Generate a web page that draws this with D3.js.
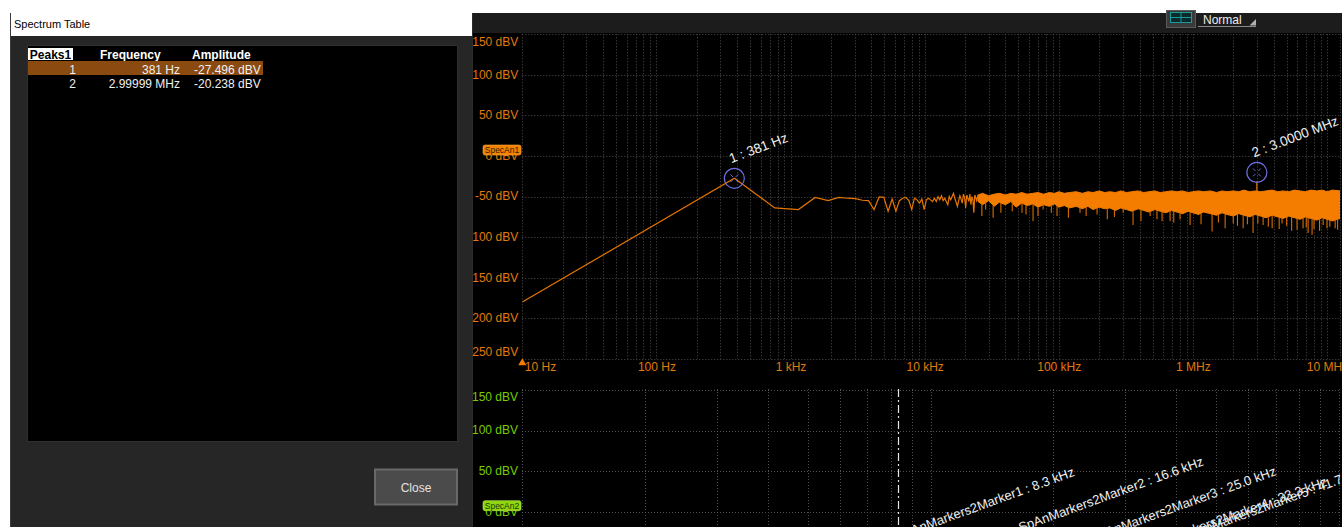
<!DOCTYPE html>
<html><head><meta charset="utf-8">
<script src="https://cdn.jsdelivr.net/npm/d3@7"></script>
<style>html,body{margin:0;padding:0;background:#fff;overflow:hidden}svg{display:block}</style>
</head><body>
<svg id="c" width="1342" height="527"></svg>
<script>
// ---------------- DATA ----------------
const tableTitle = "Spectrum Table";
const tableHeaders = ["Peaks1", "Frequency", "Amplitude"];
const peakIds = ["1", "2"];
const peakFreqText = ["381 Hz", "2.99999 MHz"];
const peakAmpText = ["-27.496 dBV", "-20.238 dBV"];
const peakFreqs = [381, 2999990];
const peakAmps = [-27.496, -20.238];
const peakMarkerLabels = ["1 : 381 Hz", "2 : 3.0000 MHz"];

const topFreqTicks = [10, 100, 1e3, 1e4, 1e5, 1e6, 1e7];
const topFreqTickLabels = ["10 Hz", "100 Hz", "1 kHz", "10 kHz", "100 kHz", "1 MHz", "10 MHz"];
const dbvTicks = [150, 100, 50, 0, -50, -100, -150, -200, -250];
const lowerDbvTicks = [150, 100, 50, 0];

// spectrum trace (SpecAn1)
const binHz = 381.47;
const traceStartFreq = 10, traceStartAmp = -180;
const binAmps = [-27.5, -64, -66, -51, -55, -51, -52, -52.5, -54.5, -55,
  -66, -50.5, -51, -68, -53, -68, -55, -52, -51, -55,
  -66, -52, -54, -58, -53, -66, -54, -52, -54, -56,
  -52, -56, -50, -54, -49, -55, -52, -56, -60, -50,
  -54, -50, -46, -52, -57, -62, -55, -49, -53, -58,
  -47, -51, -64, -48, -52, -56, -47, -60, -50, -53,
  -70, -48, -51, -55];
const bandFreqs = [25e3, 27e3, 30e3, 33e3, 36e3, 40e3, 44e3, 48e3, 53e3, 58e3,
  64e3, 70e3, 77e3, 85e3, 93e3, 100e3, 110e3, 120e3, 135e3, 150e3,
  165e3, 180e3, 200e3, 220e3, 240e3, 265e3, 290e3, 320e3, 350e3, 390e3,
  430e3, 470e3, 520e3, 570e3, 630e3, 690e3, 760e3, 840e3, 920e3, 1.0e6,
  1.1e6, 1.2e6, 1.35e6, 1.5e6, 1.65e6, 1.8e6, 2.0e6, 2.2e6, 2.4e6, 2.65e6,
  2.9e6, 3.2e6, 3.5e6, 3.9e6, 4.3e6, 4.7e6, 5.2e6, 5.7e6, 6.3e6, 6.9e6,
  7.6e6, 8.4e6, 9.2e6, 10e6, 11e6, 12.5e6];
const bandHi = [-48, -46, -49, -47, -46, -48, -46, -47, -45, -47,
  -46, -45, -47, -45, -46, -44, -46, -45, -44, -46,
  -44, -45, -43, -45, -44, -45, -43, -45, -44, -43,
  -45, -44, -43, -45, -44, -43, -44, -43, -45, -44,
  -43, -44, -43, -45, -43, -44, -43, -44, -42, -44,
  -43, -44, -43, -42, -44, -43, -44, -42, -43, -44,
  -42, -43, -42, -44, -42, -43];
const bandLo = [-56, -60, -55, -62, -57, -60, -56, -63, -58, -61,
  -59, -63, -60, -62, -59, -63, -61, -64, -62, -65,
  -62, -66, -63, -65, -64, -67, -64, -66, -68, -65,
  -67, -69, -66, -68, -70, -67, -69, -71, -68, -70,
  -72, -69, -71, -73, -70, -72, -74, -71, -73, -75,
  -72, -74, -76, -73, -75, -77, -74, -76, -78, -75,
  -77, -79, -76, -78, -80, -77];
const spikeFreqs = [26.7e3, 28.5e3, 32.4e3, 37e3, 45e3, 53.2e3, 57e3, 64.3e3, 70e3, 76.4e3,
  88e3, 97.1e3, 118e3, 144e3, 160e3, 193e3, 230e3, 260e3, 302e3, 358e3,
  410e3, 480e3, 540e3, 589e3, 676e3, 720e3, 802e3, 953e3, 1.15e6, 1.39e6,
  1.55e6, 1.74e6, 2.0e6, 2.15e6, 2.37e6, 2.55e6, 2.81e6, 3.05e6, 3.34e6, 3.65e6,
  3.9e6, 4.4e6, 4.62e6, 5.0e6, 5.45e6, 5.98e6, 6.63e6, 7.0e6, 7.23e6, 7.74e6,
  8.0e6, 8.8e6, 9.36e6, 10e6, 10.5e6, 11.5e6, 12e6];
const spikeAmps = [-74, -66, -76, -70, -68, -70, -72, -80, -74, -66,
  -70, -74, -76, -70, -74, -72, -78, -75, -70, -85,
  -80, -74, -78, -80, -80, -82, -78, -85, -84, -93,
  -82, -89, -83, -86, -89, -84, -95, -83, -85, -87,
  -89, -90, -83, -86, -92, -91, -89, -88, -95, -97,
  -90, -92, -85, -89, -87, -89, -91];
const carrierFreq = 3.0e6, carrierTop = -31;

// lower spectrum (SpecAn2) markers
const lowerMarkerFreqs = [8330, 16600, 25000, 33300, 41700];
const lowerMarkerAmps = [-35, -25, -37, -50, -36];
const lowerMarkerLabels = ["SpAnMarkers2Marker1 : 8.3 kHz", "SpAnMarkers2Marker2 : 16.6 kHz",
  "SpAnMarkers2Marker3 : 25.0 kHz", "SpAnMarkers2Marker4 : 33.3 kHz", "SpAnMarkers2Marker5 : 41.7 kHz"];

// ---------------- DRAW ----------------
(function () {
const font = "'Liberation Sans', Arial, sans-serif";
const svg = d3.select("#c").style("font-family", font);
const ORANGE = "#f47d00", YORANGE = "#e27a0c", GREEN = "#78cc00", GRID = "#4e4e4e", MARK = "#6d6de0";

svg.append("rect").attr("width", 1342).attr("height", 527).attr("fill", "#fff");

// ---- right panel ----
svg.append("rect").attr("x", 472).attr("y", 13).attr("width", 870).attr("height", 514).attr("fill", "#000");
svg.append("rect").attr("x", 472).attr("y", 13).attr("width", 870).attr("height", 20).attr("fill", "#1c1c1c");
svg.append("rect").attr("x", 470).attr("y", 13).attr("width", 3).attr("height", 514).attr("fill", "#2c2c2c");

// toolbar icon + dropdown
svg.append("rect").attr("x", 1166.5).attr("y", 10.5).attr("width", 29).attr("height", 17).attr("fill", "#3a3a3a").attr("stroke", "#5a5a5a");
svg.append("rect").attr("x", 1170.5).attr("y", 12.5).attr("width", 21).attr("height", 10).attr("fill", "#0b2a2c").attr("stroke", "#1b9a9a");
svg.append("line").attr("x1", 1181).attr("x2", 1181).attr("y1", 13).attr("y2", 22).attr("stroke", "#1b9a9a");
svg.append("line").attr("x1", 1171).attr("x2", 1191).attr("y1", 17.5).attr("y2", 17.5).attr("stroke", "#1b9a9a");
svg.append("text").attr("x", 1203).attr("y", 24).attr("fill", "#eee").attr("font-size", 12).text("Normal");
svg.append("line").attr("x1", 1198).attr("x2", 1256).attr("y1", 26.5).attr("y2", 26.5).attr("stroke", "#8a8a8a");
svg.append("path").attr("d", "M1256,19L1256,25.5L1249.5,25.5Z").attr("fill", "#b0b0b0");

// ---- top plot ----
const tp = { x0: 522.3, x1: 1340, y0: 34.3, y1: 358.9 };
const xTop = d3.scaleLog().domain([10, 12.5e6]).range([tp.x0, tp.x1]);
const yTop = d3.scaleLinear().domain([-250, 150]).range([tp.y1, tp.y0]);

const gTop = svg.append("g");
const px = v => Math.round(v) + 0.5;
gTop.selectAll("line.hg").data(dbvTicks).join("line")
  .attr("x1", tp.x0).attr("x2", tp.x1).attr("y1", d => px(yTop(d))).attr("y2", d => px(yTop(d)))
  .attr("stroke", GRID).attr("stroke-dasharray", "1,2");
gTop.selectAll("line.vg").data(xTop.ticks().concat([12.5e6])).join("line")
  .attr("x1", d => px(xTop(d))).attr("x2", d => px(xTop(d))).attr("y1", tp.y0).attr("y2", tp.y1)
  .attr("stroke", GRID).attr("stroke-dasharray", "1,2");

// y axis labels (top)
const yAxTop = svg.append("g").attr("transform", `translate(${tp.x0},0)`)
  .call(d3.axisLeft(yTop).tickValues(dbvTicks).tickFormat(d => d + " dBV").tickSize(0).tickPadding(4));
yAxTop.select(".domain").remove();
yAxTop.selectAll(".tick").attr("transform", d => `translate(0,${Math.min(Math.max(yTop(d), tp.y0 + 8), tp.y1 - 6.5)})`);
yAxTop.selectAll("text").attr("fill", YORANGE).attr("font-size", 12).attr("font-family", font);

// x axis labels (top)
const xAxTop = svg.append("g").attr("transform", `translate(0,${tp.y1})`)
  .call(d3.axisBottom(xTop).tickValues(topFreqTicks).tickFormat((d, i) => topFreqTickLabels[i]).tickSize(0).tickPadding(3.5));
xAxTop.select(".domain").remove();
xAxTop.selectAll("text").attr("fill", YORANGE).attr("font-size", 12).attr("font-family", font)
  .attr("text-anchor", (d, i) => i === 0 ? "start" : "middle").attr("dx", (d, i) => i === 0 ? 2 : 0);
svg.append("path").attr("transform", `translate(${tp.x0},${tp.y1 + 4})`)
  .attr("d", d3.symbol().type(d3.symbolTriangle).size(28)).attr("fill", ORANGE);

// trace
svg.append("clipPath").attr("id", "clipTop").append("rect")
  .attr("x", tp.x0).attr("y", tp.y0).attr("width", tp.x1 - tp.x0).attr("height", tp.y1 - tp.y0);
const gTr = svg.append("g").attr("clip-path", "url(#clipTop)");
const hiAt = d3.scaleLog().domain(bandFreqs).range(bandHi);
const loAt = d3.scaleLog().domain(bandFreqs).range(bandLo);
const band = bandFreqs.map((f, i) => ({ f, hi: bandHi[i], lo: bandLo[i] }));
gTr.append("path").datum(band)
  .attr("d", d3.area().x(d => xTop(d.f)).y0(d => yTop(d.lo)).y1(d => yTop(d.hi)))
  .attr("fill", ORANGE).attr("stroke", ORANGE).attr("stroke-width", 1);
gTr.selectAll("line.sp").data(spikeFreqs).join("line")
  .attr("x1", d => xTop(d)).attr("x2", d => xTop(d))
  .attr("y1", d => yTop(loAt(d))).attr("y2", (d, i) => yTop(spikeAmps[i]))
  .attr("stroke", "#d86c00").attr("stroke-width", 1.1);
gTr.append("line").attr("x1", xTop(carrierFreq)).attr("x2", xTop(carrierFreq))
  .attr("y1", yTop(hiAt(carrierFreq))).attr("y2", yTop(carrierTop)).attr("stroke", ORANGE).attr("stroke-width", 1.2);
const lowPts = [{ f: traceStartFreq, a: traceStartAmp }].concat(binAmps.map((a, i) => ({ f: (i + 1) * binHz, a })))
  .concat([{ f: bandFreqs[0], a: bandHi[0] }]);
gTr.append("path").datum(lowPts)
  .attr("d", d3.line().x(d => xTop(d.f)).y(d => yTop(d.a)))
  .attr("fill", "none").attr("stroke", "#e57500").attr("stroke-width", 1.2);

// peak markers
peakFreqs.forEach((f, i) => {
  const cx = xTop(f), cy = yTop(peakAmps[i]);
  const g = svg.append("g").attr("transform", `translate(${cx},${cy})`);
  g.append("circle").attr("r", 10).attr("fill", "none").attr("stroke", MARK).attr("stroke-width", 1.2);
  [45, 135, 225, 315].forEach(a => {
    const r = a * Math.PI / 180;
    g.append("line").attr("x1", 2 * Math.cos(r)).attr("y1", 2 * Math.sin(r))
      .attr("x2", 5.5 * Math.cos(r)).attr("y2", 5.5 * Math.sin(r)).attr("stroke", MARK).attr("stroke-width", 1);
  });
  svg.append("text").attr("transform", `translate(${cx - 3},${cy - 15}) rotate(-21)`)
    .attr("fill", "#f0f0f0").attr("font-size", 13.5).text(peakMarkerLabels[i]);
});

// SpecAn1 badge
svg.append("rect").attr("x", 483).attr("y", yTop(0) - 11).attr("width", 38).attr("height", 10).attr("rx", 2)
  .attr("fill", "#f08400").attr("stroke", "#ffa640").attr("stroke-width", 0.6);
svg.append("text").attr("x", 502).attr("y", yTop(0) - 3).attr("text-anchor", "middle")
  .attr("font-size", 8.5).attr("fill", "#3a1800").text("SpecAn1");

// ---- lower plot ----
const lp = { x0: 522, x1: 1339, y0: 389, y1: 527 };
const xLow = d3.scaleLog().domain([1e3, 1e5]).range([lp.x0, lp.x1]);
const yLow = d3.scaleLinear().domain([0, 150]).range([511.7, 390]);
svg.selectAll("line.lhg").data(lowerDbvTicks).join("line")
  .attr("x1", lp.x0).attr("x2", 1340).attr("y1", d => px(yLow(d))).attr("y2", d => px(yLow(d)))
  .attr("stroke", GRID).attr("stroke-dasharray", "1,2");
svg.selectAll("line.lvg").data(xLow.ticks()).join("line")
  .attr("x1", d => px(xLow(d))).attr("x2", d => px(xLow(d))).attr("y1", lp.y0).attr("y2", lp.y1)
  .attr("stroke", GRID).attr("stroke-dasharray", "1,2");
const yAxLow = svg.append("g").attr("transform", `translate(${lp.x0},0)`)
  .call(d3.axisLeft(yLow).tickValues(lowerDbvTicks).tickFormat(d => d + " dBV").tickSize(0).tickPadding(4));
yAxLow.select(".domain").remove();
yAxLow.selectAll(".tick").attr("transform", d => `translate(0,${Math.max(yLow(d), lp.y0 + 8)})`);
yAxLow.selectAll("text").attr("fill", GREEN).attr("font-size", 12).attr("font-family", font);
svg.append("rect").attr("x", 483).attr("y", yLow(0) - 11).attr("width", 38).attr("height", 10).attr("rx", 2)
  .attr("fill", "#8fd610").attr("stroke", "#b8f050").attr("stroke-width", 0.6);
svg.append("text").attr("x", 502).attr("y", yLow(0) - 3).attr("text-anchor", "middle")
  .attr("font-size", 8.5).attr("fill", "#203800").text("SpecAn2");

// selected marker line
svg.append("line").attr("x1", px(xLow(lowerMarkerFreqs[0]))).attr("x2", px(xLow(lowerMarkerFreqs[0])))
  .attr("y1", lp.y0).attr("y2", lp.y1).attr("stroke", "#e6e6e6").attr("stroke-width", 1.2)
  .attr("stroke-dasharray", "8,3,2,3");
svg.selectAll("text.lm").data(lowerMarkerFreqs).join("text")
  .attr("transform", (d, i) => `translate(${xLow(d)},${yLow(lowerMarkerAmps[i])}) rotate(-20)`)
  .attr("fill", "#f0f0f0").attr("font-size", 13).text((d, i) => lowerMarkerLabels[i]);

// ---- left dialog ----
const dlg = svg.append("g");
dlg.append("rect").attr("x", 10).attr("y", 13).attr("width", 462).attr("height", 514).attr("fill", "#262626");
dlg.append("rect").attr("x", 11).attr("y", 13).attr("width", 461).attr("height", 23).attr("fill", "#fff");
dlg.append("line").attr("x1", 10.5).attr("x2", 10.5).attr("y1", 13).attr("y2", 527).attr("stroke", "#3c3c3c");
dlg.append("text").attr("x", 14).attr("y", 28).attr("font-size", 11).attr("fill", "#000").text(tableTitle);
dlg.append("rect").attr("x", 27.5).attr("y", 45.5).attr("width", 430).attr("height", 396).attr("fill", "#000").attr("stroke", "#2f2f2f");
// header
dlg.append("rect").attr("x", 28).attr("y", 48).attr("width", 45).attr("height", 12).attr("fill", "#fff");
const headX = [50.5, 100, 192], headAnchor = ["middle", "start", "start"], headFill = ["#000", "#fff", "#fff"];
tableHeaders.forEach((h, i) => dlg.append("text").attr("x", headX[i]).attr("y", 58.5).attr("text-anchor", headAnchor[i])
  .attr("font-size", 12).attr("font-weight", "bold").attr("fill", headFill[i]).text(h));
// rows
const rowY = d3.scaleLinear().domain([0, 1]).range([73.5, 88]);
dlg.append("rect").attr("x", 28).attr("y", 61).attr("width", 235).attr("height", 14).attr("fill", "#8a4a10");
peakIds.forEach((id, i) => {
  const y = rowY(i);
  dlg.append("text").attr("x", 76).attr("y", y).attr("text-anchor", "end").attr("font-size", 12).attr("fill", "#f0f0f0").text(id);
  dlg.append("text").attr("x", 180).attr("y", y).attr("text-anchor", "end").attr("font-size", 12).attr("fill", "#f0f0f0").text(peakFreqText[i]);
  dlg.append("text").attr("x", 194).attr("y", y).attr("font-size", 12).attr("fill", "#f0f0f0").text(peakAmpText[i]);
});
// close button
dlg.append("rect").attr("x", 375).attr("y", 469.5).attr("width", 82).attr("height", 35).attr("fill", "#4b4b4b").attr("stroke", "#696969").attr("stroke-width", 2);
dlg.append("text").attr("x", 416).attr("y", 492).attr("text-anchor", "middle").attr("font-size", 12).attr("fill", "#e2e2e2").text("Close");
})();
</script>
</body></html>
